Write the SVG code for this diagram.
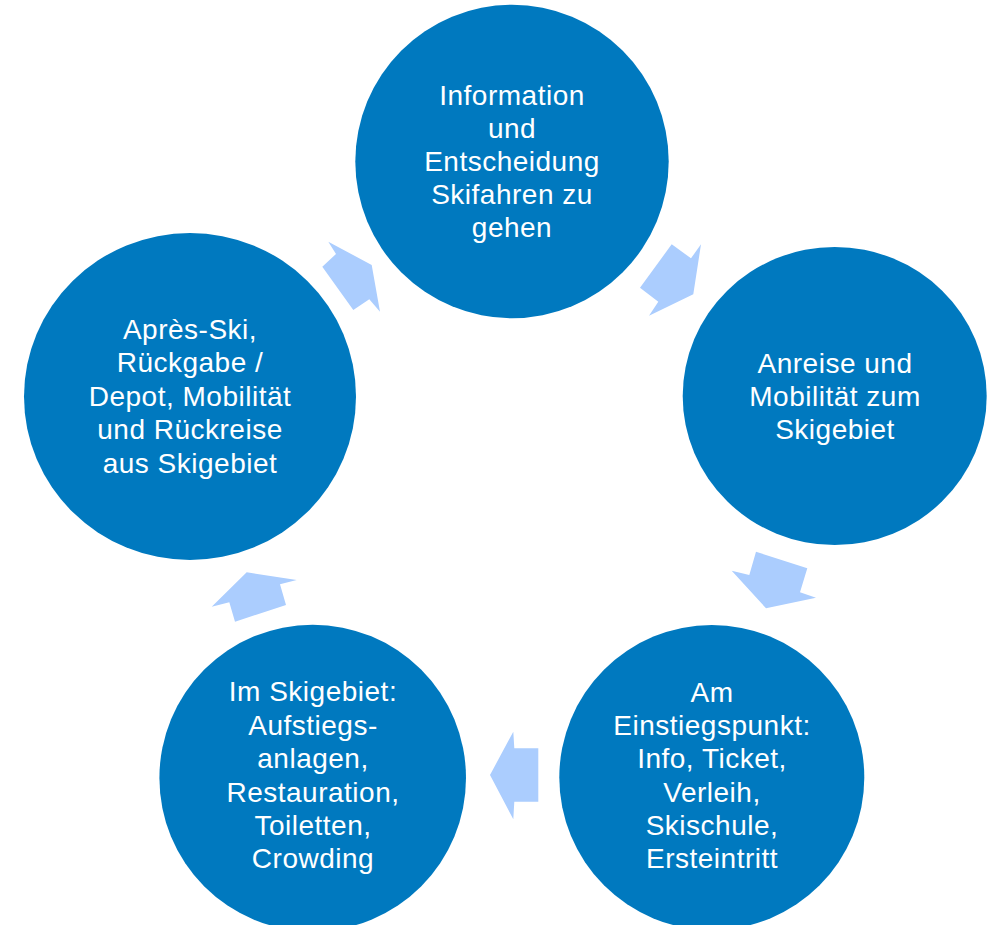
<svg xmlns="http://www.w3.org/2000/svg" width="997" height="925" viewBox="0 0 997 925">
<style>
.node{fill:#0079bf}
.lbl{fill:#ffffff;font-family:"Liberation Sans",Arial,sans-serif;font-size:28px;letter-spacing:0.5px;text-anchor:middle}
.arrow{fill:#abcdfe}
</style>
<rect width="997" height="925" fill="#ffffff"/>
<g id="connectors">
<polygon class="arrow" points="328.3,241.7 336,254 322.3,266.7 353.3,310 369.3,299.3 380,311.7 371.7,265"/>
<polygon class="arrow" points="671.7,244.3 691,258.3 701,244.3 693.3,294.3 649,315.7 658.3,301.7 640,287.7"/>
<polygon class="arrow" points="756,551.7 807.3,568.3 800,592.3 816,597.7 766,608.3 731.7,570.7 749.3,575"/>
<polygon class="arrow" points="538.3,748.3 514.3,748.3 513.3,731.7 490,775 513.3,819.3 514.3,801.7 538.3,801.7"/>
<polygon class="arrow" points="246.7,572.3 296.7,580 280,584.3 286,605 235,621.7 229.3,602.3 211.7,606.7"/>
</g>
<g id="node-information">
<circle class="node" cx="512" cy="161.5" r="156.7"/>
<text class="lbl"><tspan x="512" y="105">Information</tspan><tspan x="512" y="138">und</tspan><tspan x="512" y="171">Entscheidung</tspan><tspan x="512" y="204">Skifahren zu</tspan><tspan x="512" y="237">gehen</tspan></text>
</g>
<g id="node-anreise">
<ellipse class="node" cx="834.7" cy="396" rx="152" ry="149"/>
<text class="lbl"><tspan x="835" y="372.7">Anreise und</tspan><tspan x="835" y="406">Mobilität zum</tspan><tspan x="835" y="439.3">Skigebiet</tspan></text>
</g>
<g id="node-einstieg">
<circle class="node" cx="711.8" cy="777.5" r="152.5"/>
<text class="lbl"><tspan x="712" y="701.7">Am</tspan><tspan x="712" y="735">Einstiegspunkt:</tspan><tspan x="712" y="768.3">Info, Ticket,</tspan><tspan x="712" y="801.7">Verleih,</tspan><tspan x="712" y="835">Skischule,</tspan><tspan x="712" y="868.3">Ersteintritt</tspan></text>
</g>
<g id="node-skigebiet">
<circle class="node" cx="312.7" cy="778" r="153.3"/>
<text class="lbl"><tspan x="313" y="700.7">Im Skigebiet:</tspan><tspan x="313" y="735">Aufstiegs-</tspan><tspan x="313" y="768.3">anlagen,</tspan><tspan x="313" y="801.7">Restauration,</tspan><tspan x="313" y="835">Toiletten,</tspan><tspan x="313" y="868.3">Crowding</tspan></text>
</g>
<g id="node-apres">
<ellipse class="node" cx="190" cy="396.5" rx="166" ry="163.5"/>
<text class="lbl"><tspan x="190" y="338.5">Après-Ski,</tspan><tspan x="190" y="372">Rückgabe /</tspan><tspan x="190" y="405.5">Depot, Mobilität</tspan><tspan x="190" y="439">und Rückreise</tspan><tspan x="190" y="472.5">aus Skigebiet</tspan></text>
</g>
</svg>
